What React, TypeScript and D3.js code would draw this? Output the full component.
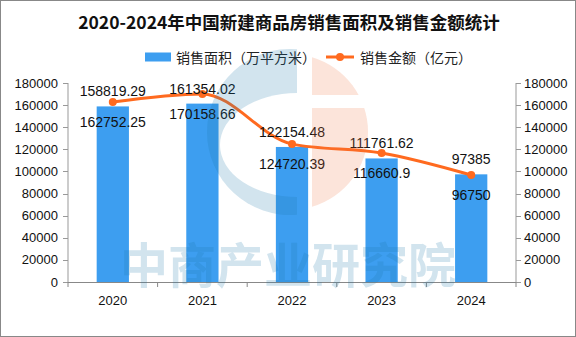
import React from "react";
import * as d3 from "d3";

const years = ["2020", "2021", "2022", "2023", "2024"];
const areaValues = [158819.29, 161354.02, 122154.48, 111761.62, 97385];
const amountValues = [162752.25, 170158.66, 124720.39, 116660.9, 96750];
const areaLabels = ["158819.29", "161354.02", "122154.48", "111761.62", "97385"];
const amountLabels = ["162752.25", "170158.66", "124720.39", "116660.9", "96750"];
const yTicks = [0, 20000, 40000, 60000, 80000, 100000, 120000, 140000, 160000, 180000];
const title = "2020-2024年中国新建商品房销售面积及销售金额统计";
const legendArea = "销售面积（万平方米）";
const legendAmount = "销售金额（亿元）";
const watermark = "中商产业研究院";

const W = 576;
const H = 337;
const left = 68;
const right = 516;
const top = 83;
const bottom = 282;
const BAR = "#3d9ef0";
const LINE = "#ff6a1f";
const AXIS = "#999999";
const NUM_FONT = "'Liberation Sans', Arial, sans-serif";
const CJK_FONT = "'Noto Sans CJK SC', sans-serif";

export default function App() {
  const x = d3.scaleBand<string>().domain(years).range([left, right]).padding(0);
  const y = d3.scaleLinear().domain([0, 180000]).range([bottom, top]);
  const bw = x.bandwidth() * 0.36;
  const cx = (d: string) => (x(d) ?? 0) + x.bandwidth() / 2;

  const linePath =
    d3
      .line<number>()
      .x((_, i) => cx(years[i]))
      .y((v) => y(v))
      .curve(d3.curveMonotoneX)(amountValues) ?? "";

  // watermark logo shapes
  const lcx = 290, lcy = 132, lr = 83;
  const outerBlue = `M297,${lcy - Math.sqrt(lr * lr - 49)} A${lr},${lr} 0 1 0 297,${lcy + Math.sqrt(lr * lr - 49)} Z`;
  const orR = 78;
  const orangeTopY = lcy - Math.sqrt(orR * orR - 22 * 22);
  const orangeBotY = lcy + Math.sqrt(orR * orR - 22 * 22);

  return (
    <svg width={W} height={H} style={{ display: "block", position: "absolute", left: 0, top: 0 }}>
      <defs>
        <clipPath id="orangeClip">
          <rect x={312} y={0} width={100} height={95} />
          <rect x={312} y={108} width={100} height={200} />
        </clipPath>
        <mask id="blueMask">
          <rect x={0} y={0} width={W} height={H} fill="white" />
          <ellipse cx={297} cy={145} rx={77} ry={52} fill="black" />
        </mask>
      </defs>
      <rect x={0.5} y={0.5} width={W - 1} height={H - 1} fill="#fff" stroke="#888" />

      <text
        x={289}
        y={21}
        textAnchor="middle"
        dominantBaseline="central"
        fontFamily={CJK_FONT}
        fontWeight={700}
        fontSize={17.5}
        fill="#111"
      >
        {title}
      </text>

      {/* legend */}
      <rect x={145} y={52.5} width={26} height={9} fill={BAR} />
      <text x={176} y={57} dominantBaseline="central" fontFamily={CJK_FONT} fontSize={14} fill="#222">
        {legendArea}
      </text>
      <line x1={326} x2={354} y1={57} y2={57} stroke={LINE} strokeWidth={3} />
      <circle cx={340} cy={57} r={4} fill={LINE} />
      <text x={360} y={57} dominantBaseline="central" fontFamily={CJK_FONT} fontSize={14} fill="#222">
        {legendAmount}
      </text>

      {/* bars */}
      {years.map((yr, i) => (
        <rect key={yr} x={cx(yr) - bw / 2} y={y(areaValues[i])} width={bw} height={bottom - y(areaValues[i])} fill={BAR} />
      ))}

      {/* axes */}
      <line x1={left} x2={left} y1={top} y2={bottom} stroke={AXIS} />
      <line x1={right} x2={right} y1={top} y2={bottom} stroke={AXIS} />
      <line x1={left} x2={right} y1={bottom + 0.5} y2={bottom + 0.5} stroke="#888" />
      {yTicks.map((t) => (
        <g key={t}>
          <line x1={left - 5} x2={left} y1={Math.round(y(t)) + 0.5} y2={Math.round(y(t)) + 0.5} stroke={AXIS} />
          <line x1={right} x2={right + 5} y1={Math.round(y(t)) + 0.5} y2={Math.round(y(t)) + 0.5} stroke={AXIS} />
          <text x={left - 10} y={y(t)} textAnchor="end" dominantBaseline="central" fontFamily={NUM_FONT} fontSize={13} fill="#111">
            {t}
          </text>
          <text x={right + 8} y={y(t)} textAnchor="start" dominantBaseline="central" fontFamily={NUM_FONT} fontSize={13} fill="#111">
            {t}
          </text>
        </g>
      ))}
      {[...years.map((yr) => x(yr) ?? 0), right].map((v, i) => (
        <line key={i} x1={v} x2={v} y1={bottom} y2={bottom + 5} stroke="#888" />
      ))}
      {years.map((yr) => (
        <text key={yr} x={cx(yr)} y={300} textAnchor="middle" dominantBaseline="central" fontFamily={NUM_FONT} fontSize={13} fill="#111">
          {yr}
        </text>
      ))}

      {/* line */}
      <path d={linePath} fill="none" stroke={LINE} strokeWidth={3} />
      {years.map((yr, i) => (
        <circle key={yr} cx={cx(yr)} cy={y(amountValues[i])} r={4} fill={LINE} />
      ))}

      {/* labels */}
      {years.map((yr, i) => (
        <g key={yr}>
          <text x={cx(yr)} y={y(areaValues[i]) - 15} textAnchor="middle" dominantBaseline="central" fontFamily={NUM_FONT} fontSize={14} fill="#111">
            {areaLabels[i]}
          </text>
          <text x={cx(yr)} y={y(amountValues[i]) + 20} textAnchor="middle" dominantBaseline="central" fontFamily={NUM_FONT} fontSize={14} fill="#111">
            {amountLabels[i]}
          </text>
        </g>
      ))}

      {/* watermark */}
      <g opacity={0.2} style={{ pointerEvents: "none" }}>
        <path d={outerBlue} fill="#1e78aa" mask="url(#blueMask)" />
        <path
          d={`M312,${orangeTopY} A${orR},${orR} 0 0 1 312,${orangeBotY} Z`}
          fill="#f07846"
          clipPath="url(#orangeClip)"
        />
        <text
          x={288}
          y={262}
          textAnchor="middle"
          dominantBaseline="central"
          fontFamily={CJK_FONT}
          fontWeight={700}
          fontSize={48}
          fill="#1e78aa"
        >
          {watermark}
        </text>
      </g>
    </svg>
  );
}
